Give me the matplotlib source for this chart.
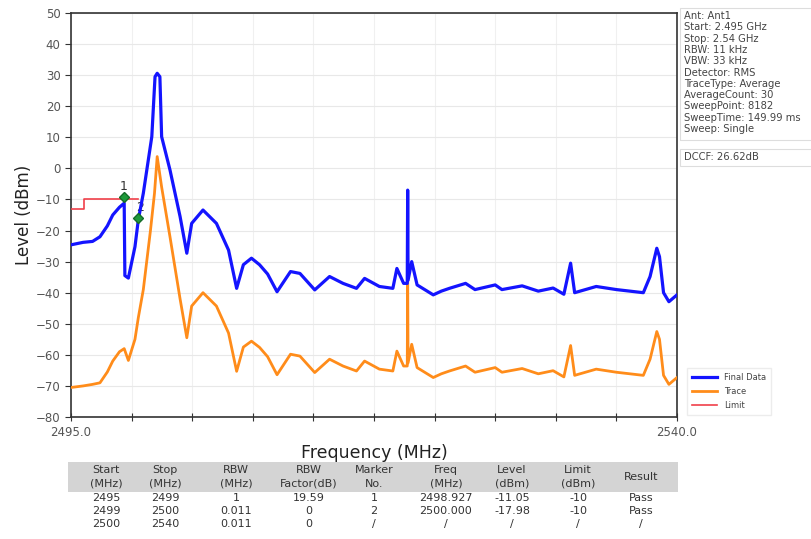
import matplotlib.pyplot as plt
import numpy as np

# Final Data (blue)
final_freq = [2495.0, 2495.9, 2496.6, 2497.15, 2497.7, 2498.1, 2498.6, 2498.95, 2499.0, 2499.26,
              2499.75, 2500.0, 2500.37, 2501.0, 2501.24, 2501.4, 2501.6, 2501.73, 2502.35, 2503.1,
              2503.6, 2503.96, 2504.8, 2505.8, 2506.7, 2507.3, 2507.8, 2508.4, 2509.0, 2509.6,
              2510.3, 2511.3, 2512.0, 2513.1, 2514.2, 2515.2, 2516.2, 2516.8, 2517.9, 2518.9,
              2519.2, 2519.7, 2519.97, 2520.0, 2520.03, 2520.3, 2520.7, 2521.9, 2522.5, 2523.1,
              2524.3, 2525.0, 2526.5, 2527.0, 2528.5, 2529.7, 2530.8, 2531.6, 2532.1, 2532.4,
              2534.0, 2535.5, 2537.5, 2538.0, 2538.5, 2538.7, 2539.0, 2539.4, 2540.0]
final_level = [-24.6, -23.8, -23.5, -22.0, -18.5, -15.0, -12.5, -11.2, -34.5, -35.3,
               -25.2, -16.5, -8.0, 10.2, 29.5, 30.6, 29.5, 10.2, -0.5, -15.5,
               -27.3, -17.7, -13.4, -17.7, -26.3, -38.6, -31.0, -28.9, -31.0, -34.0,
               -39.7, -33.2, -33.8, -39.1, -34.8, -37.0, -38.6, -35.4, -38.0, -38.6,
               -32.2, -37.0, -37.0, -7.0, -36.0, -30.0, -37.5, -40.7, -39.5, -38.6,
               -37.0, -39.0, -37.5, -39.0, -37.8, -39.5, -38.5, -40.5, -30.5, -40.0,
               -38.0, -39.0, -40.0, -34.8, -25.7, -28.4, -40.0, -42.9, -40.7]

# Trace (orange)
trace_freq = [2495.0, 2495.9, 2496.6, 2497.15, 2497.7, 2498.1, 2498.6, 2498.95, 2499.26, 2499.75,
              2500.0, 2500.37, 2500.9, 2501.2, 2501.4, 2501.73, 2502.35, 2503.1, 2503.6, 2503.96,
              2504.8, 2505.8, 2506.7, 2507.3, 2507.8, 2508.4, 2509.0, 2509.6, 2510.3, 2511.3,
              2512.0, 2513.1, 2514.2, 2515.2, 2516.2, 2516.8, 2517.9, 2518.9, 2519.2, 2519.7,
              2519.97, 2520.0, 2520.03, 2520.3, 2520.7, 2521.9, 2522.5, 2523.1, 2524.3, 2525.0,
              2526.5, 2527.0, 2528.5, 2529.7, 2530.8, 2531.6, 2532.1, 2532.4, 2534.0, 2535.5,
              2537.5, 2538.0, 2538.5, 2538.7, 2539.0, 2539.4, 2540.0]
trace_level = [-70.5, -70.0, -69.5, -69.0, -65.5, -62.0, -59.0, -58.0, -61.8, -55.0,
               -48.0, -39.0, -20.0, -8.0, 3.8, -6.0, -22.0, -42.0, -54.5, -44.3,
               -40.0, -44.3, -53.0, -65.3, -57.5, -55.6, -57.6, -60.6, -66.4, -59.8,
               -60.4, -65.7, -61.4, -63.6, -65.2, -62.0, -64.6, -65.2, -58.8, -63.6,
               -63.6, -33.5, -62.6, -56.6, -64.1, -67.3, -66.1, -65.2, -63.6, -65.6,
               -64.1, -65.6, -64.4, -66.1, -65.1, -67.1, -57.0, -66.6, -64.6, -65.6,
               -66.6, -61.4, -52.5, -55.0, -66.6, -69.5, -67.3]

# Limit (red)
limit_freq = [2495.0, 2496.0, 2496.0, 2500.0]
limit_level = [-13.0, -13.0, -10.0, -10.0]

# markers
marker_no = ['1', '2']
marker_freq = [2498.927, 2500.0]
marker_level = [-9.3, -16.0]

info_lines = ['Ant: Ant1', 'Start: 2.495 GHz', 'Stop: 2.54 GHz', 'RBW: 11 kHz', 'VBW: 33 kHz',
              'Detector: RMS', 'TraceType: Average', 'AverageCount: 30', 'SweepPoint: 8182',
              'SweepTime: 149.99 ms', 'Sweep: Single']
dccf_text = 'DCCF: 26.62dB'

table_header1 = ['Start', 'Stop', 'RBW', 'RBW', 'Marker', 'Freq', 'Level', 'Limit', '']
table_header2 = ['(MHz)', '(MHz)', '(MHz)', 'Factor(dB)', 'No.', '(MHz)', '(dBm)', '(dBm)', '']
table_rows = [
    ['2495', '2499', '1', '19.59', '1', '2498.927', '-11.05', '-10', 'Pass'],
    ['2499', '2500', '0.011', '0', '2', '2500.000', '-17.98', '-10', 'Pass'],
    ['2500', '2540', '0.011', '0', '/', '/', '/', '/', '/'],
]
col_x = [106, 165, 236, 309, 374, 446, 512, 578, 641]

W, H = 812, 539
fig = plt.figure(figsize=(W / 100, H / 100), dpi=100)
ax = fig.add_axes([71 / W, 1 - 417 / H, (677 - 71) / W, (417 - 13) / H])

ax.plot(trace_freq, trace_level, color='#ff8c1a', lw=2.0, label='Trace', zorder=3)
ax.plot(final_freq, final_level, color='#1414ff', lw=2.3, label='Final Data', zorder=4)
ax.plot(limit_freq, limit_level, color='#f0404a', lw=1.2, label='Limit', zorder=5)
ax.plot(marker_freq, marker_level, 'D', color='#1f9a3a', ms=5.5, mec='#146b28', zorder=6)
for n, fx, lv in zip(marker_no, marker_freq, marker_level):
    ax.annotate(n, (fx, lv), xytext=(0 if n == '1' else 1.5, 5), textcoords='offset points',
                ha='center', fontsize=9, color='#333333')

ax.set_xlim(2495, 2540)
ax.set_ylim(-80, 50)
ax.set_yticks(np.arange(-80, 51, 10))
xt = np.linspace(2495, 2540, 11)
ax.set_xticks(xt)
ax.set_xticklabels(['2495.0'] + [''] * 9 + ['2540.0'])
ax.tick_params(axis='both', labelsize=8.5, labelcolor='#555555', color='#333333', length=4)
ax.tick_params(axis='x', direction='inout', length=6)
ax.grid(True, axis='y', color='#e8e8e8', lw=0.8)
ax.grid(True, axis='x', color='#f0f0f0', lw=0.8)
for s in ax.spines.values():
    s.set_color('#333333')
    s.set_linewidth(1.2)
ax.set_ylabel('Level (dBm)', fontsize=12, color='#222222', labelpad=2)
fig.text(374 / W, 1 - 453 / H, 'Frequency (MHz)', ha='center', va='center', fontsize=12.5, color='#222222')

# handles in legend order
h, l = ax.get_legend_handles_labels()
order = [1, 0, 2]
fig.legend([h[i] for i in order], [l[i] for i in order], loc='upper left',
           bbox_to_anchor=(683 / W, 1 - 364 / H), fontsize=6, frameon=True,
           edgecolor='#e8e8e8', fancybox=False, handlelength=3, labelspacing=0.6,
           borderpad=0.6, labelcolor='#444444')

# info box on the right
fig.patches.append(plt.Rectangle((680 / W, 1 - 140 / H), 140 / W, 132 / H, transform=fig.transFigure,
                                 fill=False, edgecolor='#dddddd', lw=0.8))
for i, t in enumerate(info_lines):
    fig.text(684 / W, 1 - (16 + i * 11.3) / H, t, fontsize=7.2, color='#444444', va='center')
fig.patches.append(plt.Rectangle((680 / W, 1 - 166 / H), 132 / W, 17 / H, transform=fig.transFigure,
                                 fill=False, edgecolor='#dddddd', lw=0.8))
fig.text(684 / W, 1 - 157 / H, dccf_text, fontsize=7.2, color='#444444', va='center')

# table
fig.patches.append(plt.Rectangle((68 / W, 1 - 492 / H), (678 - 68) / W, 30 / H, transform=fig.transFigure,
                                 facecolor='#d4d4d4', edgecolor='none'))
tfont = ['Liberation Sans Narrow', 'DejaVu Sans']
for x, a, b in zip(col_x, table_header1, table_header2):
    fig.text(x / W, 1 - 470 / H, a, ha='center', va='center', fontsize=8, color='#333333', family=tfont)
    fig.text(x / W, 1 - 484 / H, b, ha='center', va='center', fontsize=8, color='#333333', family=tfont)
fig.text(col_x[-1] / W, 1 - 477 / H, 'Result', ha='center', va='center', fontsize=8, color='#333333', family=tfont)
for r, row in enumerate(table_rows):
    for x, v in zip(col_x, row):
        fig.text(x / W, 1 - (498 + r * 13) / H, v, ha='center', va='center', fontsize=8,
                 color='#333333', family=tfont)

fig.savefig('out.png', dpi=100)
